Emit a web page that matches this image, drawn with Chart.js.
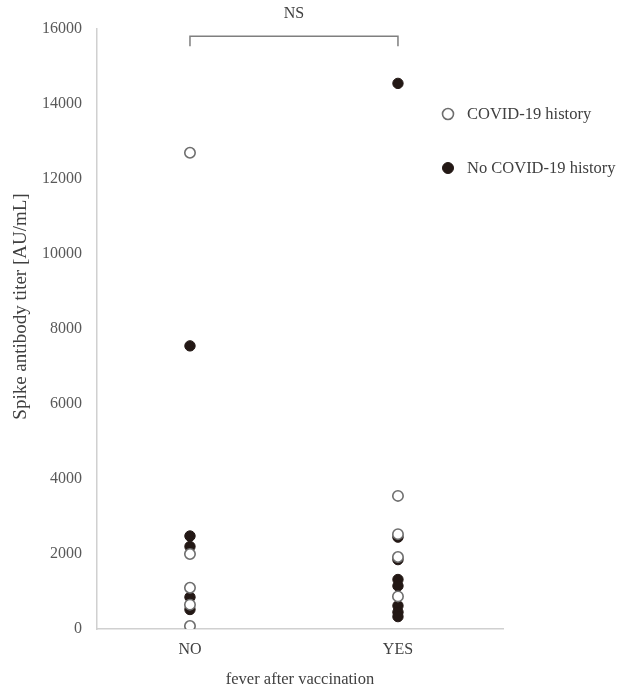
<!DOCTYPE html>
<html>
<head>
<meta charset="utf-8">
<script src="https://cdn.jsdelivr.net/npm/chart.js@4"></script>
<style>
html,body{margin:0;padding:0;background:#fff;}
#wrap{width:631px;height:690px;}
</style>
</head>
<body>
<div id="wrap"><canvas id="c" width="631" height="690"></canvas></div>
<script>
const categories = ["NO", "YES"];
const historyNO = [12700, 2000, 1100, 650, 80];
const historyYES = [3550, 2530, 1920, 870];
const noHistoryNO = [7550, 2480, 2200, 850, 520];
const noHistoryYES = [14550, 2450, 1850, 1320, 1150, 620, 450, 330];
const yTicks = [0, 2000, 4000, 6000, 8000, 10000, 12000, 14000, 16000];
const seriesLabels = ["COVID-19 history", "No COVID-19 history"];
const sigLabel = "NS";
const yTitle = "Spike antibody titer [AU/mL]";
const xTitle = "fever after vaccination";

function pts(cat, vals){ return vals.map(v => ({x: categories.indexOf(cat) + 1, y: v})); }

const FONT = "'Liberation Serif', 'DejaVu Serif', serif";

const overlay = {
  id: 'overlay',
  afterDatasetsDraw(chart){
    const ctx = chart.ctx, xs = chart.scales.x, ys = chart.scales.y;
    // significance bracket
    const x1 = xs.getPixelForValue(1), x2 = xs.getPixelForValue(2);
    const yTop = ys.getPixelForValue(15810), yEnd = ys.getPixelForValue(15540);
    ctx.save();
    ctx.strokeStyle = '#7f7f7f';
    ctx.lineWidth = 1.5;
    ctx.beginPath();
    ctx.moveTo(x1, yEnd); ctx.lineTo(x1, yTop); ctx.lineTo(x2, yTop); ctx.lineTo(x2, yEnd);
    ctx.stroke();
    ctx.fillStyle = '#404040';
    ctx.font = '16px ' + FONT;
    ctx.textAlign = 'center';
    ctx.textBaseline = 'middle';
    ctx.fillText(sigLabel, (x1 + x2) / 2, 14);
    // y-axis title
    ctx.save();
    ctx.translate(21, ys.getPixelForValue(8600));
    ctx.rotate(-Math.PI / 2);
    ctx.font = '19px ' + FONT;
    ctx.fillStyle = '#404040';
    ctx.textAlign = 'center';
    ctx.textBaseline = 'middle';
    ctx.fillText(yTitle, 0, 0);
    ctx.restore();
    // legend
    const ds = chart.data.datasets;
    const lx = 448, ly = [114, 168];
    ds.forEach((d, i) => {
      ctx.beginPath();
      ctx.arc(lx, ly[i], 5.5, 0, Math.PI * 2);
      ctx.fillStyle = d.backgroundColor;
      ctx.fill();
      ctx.lineWidth = d.borderWidth;
      ctx.strokeStyle = d.borderColor;
      ctx.stroke();
      ctx.fillStyle = '#404040';
      ctx.font = '16.5px ' + FONT;
      ctx.textAlign = 'left';
      ctx.textBaseline = 'middle';
      ctx.fillText(d.label, lx + 19, ly[i] + 1);
    });
    ctx.restore();
  }
};

new Chart(document.getElementById('c'), {
  type: 'scatter',
  data: {
    datasets: [
      {
        label: seriesLabels[0],
        data: pts("NO", historyNO).concat(pts("YES", historyYES)),
        backgroundColor: '#ffffff',
        borderColor: '#6e6e6e',
        borderWidth: 1.6,
        pointRadius: 5.2,
        order: 1
      },
      {
        label: seriesLabels[1],
        data: pts("NO", noHistoryNO).concat(pts("YES", noHistoryYES)),
        backgroundColor: '#231815',
        borderColor: '#231815',
        borderWidth: 1,
        pointRadius: 5.2,
        order: 2
      }
    ]
  },
  options: {
    responsive: false,
    animation: false,
    layout: { padding: { left: 0, right: 128, top: 29, bottom: 0 } },
    plugins: { legend: { display: false }, tooltip: { enabled: false } },
    scales: {
      x: {
        type: 'linear',
        min: 0.553,
        max: 2.505,
        afterBuildTicks(s){ s.ticks = categories.map((c, i) => ({value: i + 1})); },
        ticks: {
          callback: (v) => categories[v - 1] || '',
          color: '#404040',
          font: { family: FONT, size: 16 },
          padding: 11,
          maxRotation: 0,
          autoSkip: false
        },
        grid: { display: false, drawTicks: false },
        border: { display: true, color: '#d0d0d0', width: 1.5 },
        title: {
          display: true,
          text: xTitle,
          color: '#404040',
          font: { family: FONT, size: 16.5 },
          padding: { top: 9, bottom: 0 }
        },
        afterFit(s){ s.height = 61; }
      },
      y: {
        type: 'linear',
        min: 0,
        max: 16000,
        afterBuildTicks(s){ s.ticks = yTicks.map(v => ({value: v})); },
        ticks: {
          callback: (v) => String(v),
          color: '#595959',
          font: { family: FONT, size: 16 },
          padding: 15
        },
        grid: { display: false, drawTicks: false },
        border: { display: true, color: '#d0d0d0', width: 1.5 },
        title: { display: false },
        afterFit(s){ s.height = s.height; s.width = 97; }
      }
    }
  },
  plugins: [overlay]
});
</script>
</body>
</html>
